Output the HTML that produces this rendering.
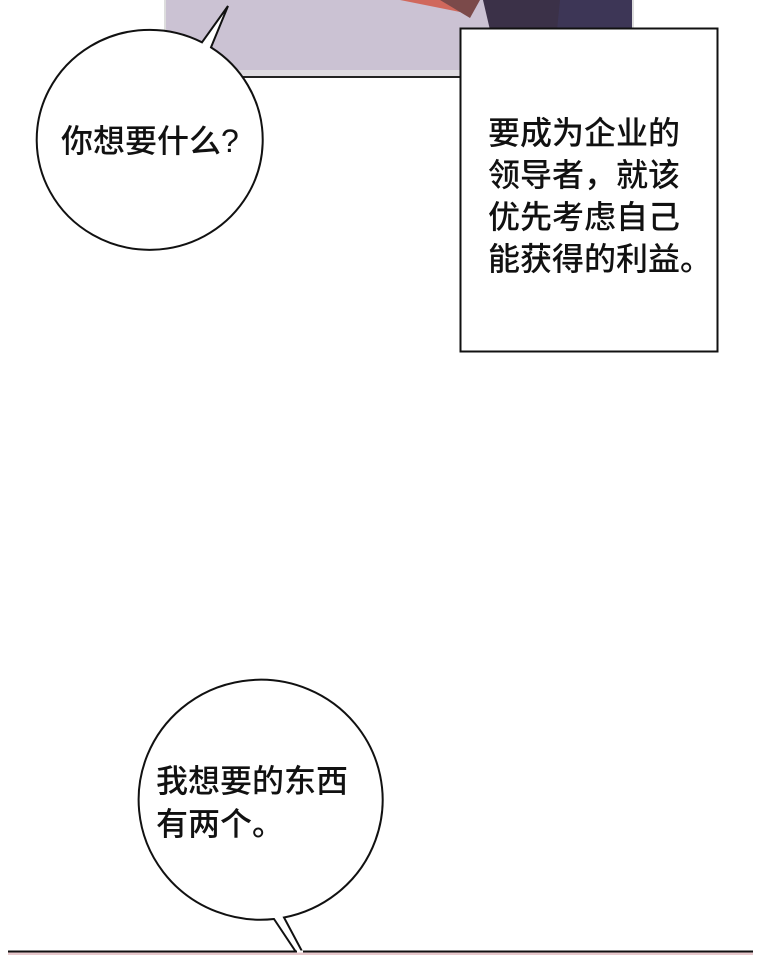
<!DOCTYPE html>
<html><head><meta charset="utf-8"><style>
html,body{margin:0;padding:0;background:#fff;}
.t{font-family:"Liberation Sans","Noto Sans CJK SC",sans-serif;font-weight:500;color:#111;position:absolute;white-space:nowrap;}
</style></head><body>
<div style="position:relative;width:760px;height:955px;overflow:hidden;background:#fff">
<svg width="760" height="955" style="position:absolute;left:0;top:0">
  <rect x="165" y="0" width="468" height="78" fill="#cbc2d3"/>
  <path d="M400 0 L470 0 L460 12 Z" fill="#d0685c"/>
  <path d="M440 0 L480 0 L470 18 Z" fill="#7b4a4a"/>
  <path d="M483 0 L633 0 L633 30 L490 30 Z" fill="#3b3148"/>
  <path d="M560 0 L633 0 L633 30 L557 30 Z" fill="#3d3656"/>
  <rect x="165" y="70" width="468" height="8" fill="#dedbe0"/>
  <line x1="165" y1="77" x2="633" y2="77" stroke="#222" stroke-width="2"/>
  <rect x="465" y="30" width="168" height="48" fill="#d8d6da"/>
  <path d="M165 0 V78 M633 0 V78" stroke="#ddd" stroke-width="2"/>
  <!-- left bubble -->
  <path d="M202 42.3 L228 6 L211 47.4 A113 110 0 1 1 202 42.3 Z" fill="#fff" stroke="#111" stroke-width="2" transform="translate(0,0)"/>
  <!-- text box -->
  <rect x="460.5" y="28.5" width="257" height="323" fill="#fff" stroke="#111" stroke-width="2"/>
  <!-- bottom bubble -->
  <path d="M274 919 L298 955 L304 955 L284 917.5 A122 120 0 1 0 274 919 Z" fill="#fff" stroke="#111" stroke-width="2"/>
  <rect x="8" y="951" width="745" height="4" fill="#e8c8cc"/>
  <line x1="8" y1="951.5" x2="753" y2="951.5" stroke="#111" stroke-width="2"/>
  <line x1="297" y1="951.5" x2="303" y2="951.5" stroke="#fff" stroke-width="2"/>
</svg>
<div class="t" style="left:61px;top:122px;font-size:32px;line-height:38px">你想要什么?</div>
<div class="t" style="left:488px;top:112px;font-size:32px;line-height:42px">要成为企业的<br>领导者，就该<br>优先考虑自己<br>能获得的利益。</div>
<div class="t" style="left:156px;top:760px;font-size:32px;line-height:43px">我想要的东西<br>有两个。</div>
</div>
</body></html>
